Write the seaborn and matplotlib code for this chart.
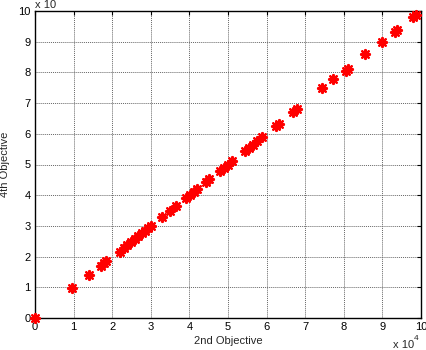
import numpy as np
import pandas as pd
import matplotlib
matplotlib.use("Agg")
import matplotlib.pyplot as plt
import seaborn as sns

# values in units of 1e4
obj2 = [0.0, 0.95, 1.4, 1.7, 1.78, 1.85, 2.2, 2.3, 2.38, 2.48, 2.58, 2.67, 2.76, 2.85, 2.93, 3.0,
        3.3, 3.5, 3.65, 3.92, 4.02, 4.12, 4.2, 4.42, 4.52, 4.8, 4.9, 5.0, 5.1, 5.45, 5.55,
        5.65, 5.75, 5.88, 6.25, 6.32, 6.68, 6.78, 7.43, 7.72, 8.05, 8.1, 8.55, 9.0, 9.33, 9.38, 9.8, 9.88]
obj4 = [0.0, 0.97, 1.4, 1.7, 1.78, 1.85, 2.15, 2.28, 2.38, 2.48, 2.58, 2.67, 2.76, 2.85, 2.93, 3.0,
        3.3, 3.5, 3.65, 3.92, 4.02, 4.12, 4.2, 4.42, 4.52, 4.8, 4.9, 5.0, 5.1, 5.45, 5.55,
        5.65, 5.75, 5.88, 6.25, 6.32, 6.7, 6.8, 7.5, 7.78, 8.05, 8.12, 8.6, 9.0, 9.33, 9.38, 9.8, 9.88]
xticks = list(range(0, 11))
yticks = list(range(0, 11))

df = pd.DataFrame({"x": obj2, "y": obj4})

sns.set_theme(style="white")
plt.rcParams["font.family"] = ["Liberation Sans", "DejaVu Sans"]

fig = plt.figure(figsize=(4.27, 3.5), dpi=100)
ax = fig.add_axes([35/427, 32/350, 386/427, 307/350])

sns.scatterplot(data=df, x="x", y="y", ax=ax, marker=(8, 2, 0), s=42,
                color="red", edgecolor="red", linewidth=1.6, legend=False, zorder=3,
                clip_on=False)

ax.set_xlim(0, 10)
ax.set_ylim(0, 10)
ax.set_xticks(xticks)
ax.set_yticks(yticks)
ax.set_xticklabels([str(t) for t in xticks], fontsize=8)
ax.set_yticklabels([str(t) for t in yticks], fontsize=8)
ax.tick_params(direction="in", length=3, width=0.8, top=True, right=True, colors="black", pad=3)
ax.grid(True, linestyle=(0, (1, 1)), color="#666666", linewidth=0.7)
for sp in ax.spines.values():
    sp.set_visible(True)
    sp.set_color("black")
    sp.set_linewidth(1.0)

ax.set_xlabel("2nd Objective", fontsize=8, labelpad=3)
ax.set_ylabel("4th Objective", fontsize=8, labelpad=6)

fig.text(35/427, 1 - 5/350, "x 10", fontsize=8, ha="left", va="center")
fig.text(393/427, 1 - 345/350, "x 10", fontsize=8, ha="left", va="center")
fig.text(414/427, 1 - 338/350, "4", fontsize=6, ha="left", va="center")

fig.savefig("out.png", dpi=100)
